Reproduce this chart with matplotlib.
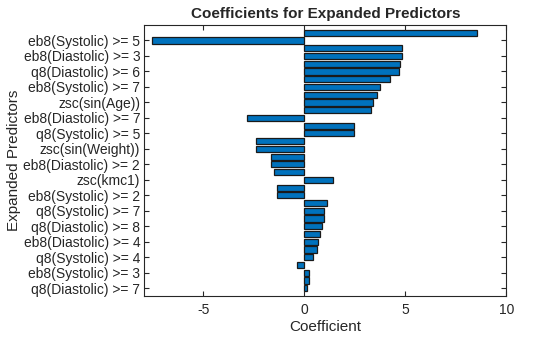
import matplotlib
matplotlib.use("Agg")
import matplotlib.pyplot as plt
import numpy as np

plt.rcParams['font.family'] = ['Liberation Sans', 'DejaVu Sans']

# Coefficients, listed from bottom bar (position 1) to top bar (position 34)
coefficients = [0.11, 0.21, 0.21, -0.39, 0.41, 0.61, 0.66, 0.76, 0.85, 0.99,
                0.99, 1.10, -1.38, -1.38, 1.40, -1.53, -1.66, -1.66, -2.42, -2.42,
                2.48, 2.48, -2.86, 3.32, 3.42, 3.62, 3.72, 4.26, 4.70, 4.75,
                4.85, 4.85, -7.55, 8.55]

# Tick labels shown on every other bar (positions 1, 3, ..., 33)
tick_labels = ["q8(Diastolic) >= 7", "eb8(Systolic) >= 3", "q8(Systolic) >= 4",
               "eb8(Diastolic) >= 4", "q8(Diastolic) >= 8", "q8(Systolic) >= 7",
               "eb8(Systolic) >= 2", "zsc(kmc1)", "eb8(Diastolic) >= 2",
               "zsc(sin(Weight))", "q8(Systolic) >= 5", "eb8(Diastolic) >= 7",
               "zsc(sin(Age))", "eb8(Systolic) >= 7", "q8(Diastolic) >= 6",
               "eb8(Diastolic) >= 3", "eb8(Systolic) >= 5"]

x_ticks = [-5, 0, 5, 10]

n = len(coefficients)
positions = np.arange(1, n + 1)
tick_pos = positions[::2]

fig = plt.figure(figsize=(5.6, 3.37), dpi=100)
ax = fig.add_axes([144.3 / 560, 1 - 296 / 337, (506.3 - 144.3) / 560, (296 - 25) / 337])

ax.barh(positions, coefficients, height=0.8, color='#0072BD',
        edgecolor='#1a1a1a', linewidth=0.9)

ax.set_xlim(-7.93, 10)
ax.set_ylim(0, 35)
ax.set_xticks(x_ticks)
ax.set_xticklabels([str(t) for t in x_ticks])
ax.set_yticks(tick_pos)
ax.set_yticklabels(tick_labels)

textc = '#262626'
ax.tick_params(axis='both', direction='in', length=3.5, width=0.8, colors=textc,
               labelsize=10, top=True, right=True)
ax.tick_params(axis='x', pad=5)
ax.tick_params(axis='y', pad=3)
for s in ax.spines.values():
    s.set_color(textc)
    s.set_linewidth(0.8)

ax.set_xlabel('Coefficient', fontsize=11, color=textc, labelpad=2)
ax.set_ylabel('Expanded Predictors', fontsize=11, color=textc, labelpad=2)
ax.set_title('Coefficients for Expanded Predictors', fontsize=11, fontweight='bold',
             color=textc, pad=5)

fig.savefig('out.png', dpi=100)
